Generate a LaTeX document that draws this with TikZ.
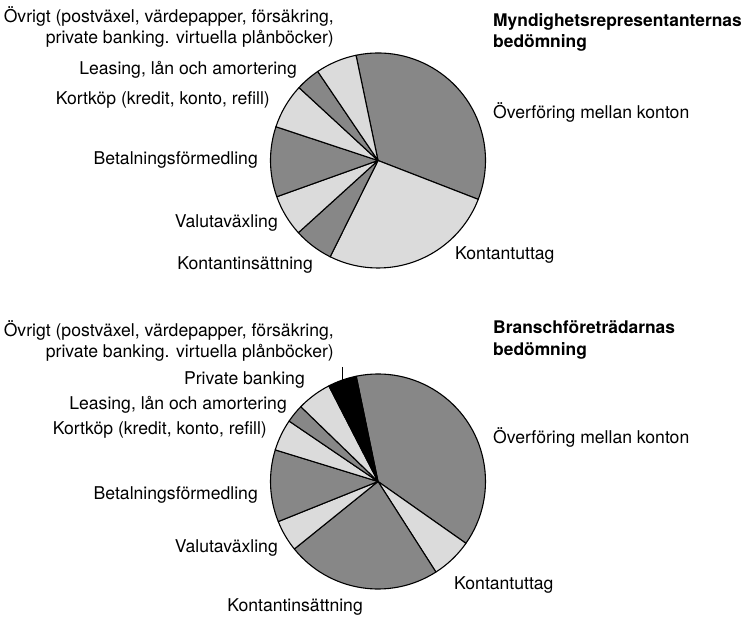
\documentclass[tikz,border=0pt]{standalone}
\usepackage{fontspec}
\setmainfont{TeX Gyre Heros}
\usepackage{xcolor}
\definecolor{piedark}{gray}{0.53}
\definecolor{pielight}{gray}{0.86}
\usetikzlibrary{positioning}

\begin{document}
\begin{tikzpicture}[
    x=1pt, y=1pt,
    slice/.style={draw=black, line width=1.1pt, line join=round},
    lbl/.style={inner sep=0pt, font=\fontsize{17.6}{21}\selectfont},
    lblr/.style={lbl, anchor=east, align=right},
    lbll/.style={lbl, anchor=west, align=left},
    ttl/.style={lbll, font=\fontsize{17.4}{21.5}\selectfont\bfseries},
    leader/.style={draw=black, line width=0.8pt}
]
\useasboundingbox (0,0) rectangle (747,618);
\coordinate (ctopA) at (378,457.5);
\coordinate (ctopB) at (378,136.5);

% upper pie
\draw[slice, fill=piedark]  (ctopA) -- ++(101.8:107.5) arc[start angle=101.8, end angle=-21.2, radius=107.5] -- cycle;
\draw[slice, fill=pielight] (ctopA) -- ++(-21.2:107.5) arc[start angle=-21.2, end angle=-116.4, radius=107.5] -- cycle;
\draw[slice, fill=piedark]  (ctopA) -- ++(-116.4:107.5) arc[start angle=-116.4, end angle=-137.8, radius=107.5] -- cycle;
\draw[slice, fill=pielight] (ctopA) -- ++(-137.8:107.5) arc[start angle=-137.8, end angle=-160.3, radius=107.5] -- cycle;
\draw[slice, fill=piedark]  (ctopA) -- ++(-160.3:107.5) arc[start angle=-160.3, end angle=-198.3, radius=107.5] -- cycle;
\draw[slice, fill=pielight] (ctopA) -- ++(-198.3:107.5) arc[start angle=-198.3, end angle=-222.7, radius=107.5] -- cycle;
\draw[slice, fill=piedark]  (ctopA) -- ++(-222.7:107.5) arc[start angle=-222.7, end angle=-235.9, radius=107.5] -- cycle;
\draw[slice, fill=pielight] (ctopA) -- ++(-235.9:107.5) arc[start angle=-235.9, end angle=-258.2, radius=107.5] -- cycle;

\node[ttl] (titleA) at (493,585.5) {Myndighetsrepresentanternas\\bedömning};
\node[lblr] (ovrigtA) at (334,591.5) {Övrigt (postväxel, värdepapper, försäkring,\\private banking. virtuella plånböcker)};
\node[lblr] (leasingA) at (297,548) {Leasing, lån och amortering};
\node[lblr] (kortA) at (270,518) {Kortköp (kredit, konto, refill)};
\node[lblr] (betalA) at (258,458) {Betalningsförmedling};
\node[lblr] (valutaA) at (278,395) {Valutaväxling};
\node[lblr] (insattA) at (313,353) {Kontantinsättning};
\node[lbll] (overA) at (493,506) {Överföring mellan konton};
\node[lbll] (uttagA) at (455,363) {Kontantuttag};

% lower pie
\draw[slice, fill=piedark]  (ctopB) -- ++(101.7:107.5) arc[start angle=101.7, end angle=-35.1, radius=107.5] -- cycle;
\draw[slice, fill=pielight] (ctopB) -- ++(-35.1:107.5) arc[start angle=-35.1, end angle=-57.4, radius=107.5] -- cycle;
\draw[slice, fill=piedark]  (ctopB) -- ++(-57.4:107.5) arc[start angle=-57.4, end angle=-141.1, radius=107.5] -- cycle;
\draw[slice, fill=pielight] (ctopB) -- ++(-141.1:107.5) arc[start angle=-141.1, end angle=-158.1, radius=107.5] -- cycle;
\draw[slice, fill=piedark]  (ctopB) -- ++(-158.1:107.5) arc[start angle=-158.1, end angle=-197.1, radius=107.5] -- cycle;
\draw[slice, fill=pielight] (ctopB) -- ++(-197.1:107.5) arc[start angle=-197.1, end angle=-214.2, radius=107.5] -- cycle;
\draw[slice, fill=piedark]  (ctopB) -- ++(-214.2:107.5) arc[start angle=-214.2, end angle=-224.1, radius=107.5] -- cycle;
\draw[slice, fill=pielight] (ctopB) -- ++(-224.1:107.5) arc[start angle=-224.1, end angle=-242.8, radius=107.5] -- cycle;
\draw[slice, fill=black]    (ctopB) -- ++(-242.8:107.5) arc[start angle=-242.8, end angle=-258.3, radius=107.5] -- cycle;

\node[ttl] (titleB) at (493,278) {Branschföreträdarnas\\bedömning};
\node[lblr] (ovrigtB) at (334,277) {Övrigt (postväxel, värdepapper, försäkring,\\private banking. virtuella plånböcker)};
\node[lblr] (privB) at (305,238) {Private banking};
\node[lblr] (leasingB) at (287,213) {Leasing, lån och amortering};
\node[lblr] (kortB) at (267,188) {Kortköp (kredit, konto, refill)};
\node[lblr] (betalB) at (258,123) {Betalningsförmedling};
\node[lblr] (valutaB) at (278,70) {Valutaväxling};
\node[lblr] (insattB) at (363,11) {Kontantinsättning};
\node[lbll] (overB) at (493,181) {Överföring mellan konton};
\node[lbll] (uttagB) at (454,33) {Kontantuttag};

\coordinate (privtop) at (342,251);
\coordinate (privtip) at (342,230);
\draw[leader] (privtop) -- (privtip);
\end{tikzpicture}
\end{document}
